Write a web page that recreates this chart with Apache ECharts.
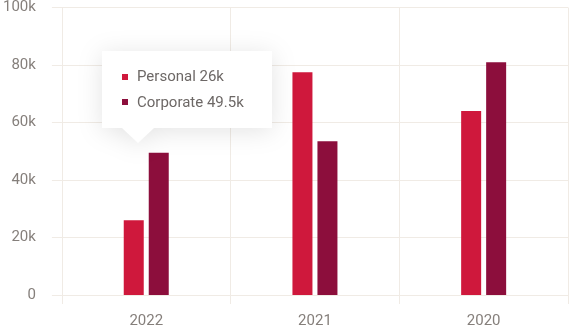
<!DOCTYPE html>
<html>
<head>
<meta charset="utf-8">
<script src="https://cdn.jsdelivr.net/npm/echarts@6/dist/echarts.min.js"></script>
<style>
  html, body { margin: 0; padding: 0; background: #ffffff; }
  #chart { width: 569px; height: 329px; }
</style>
</head>
<body>
<div id="chart"></div>
<script>
// Yearly totals, in thousands
const years = ['2022', '2021', '2020'];
const personal = [26, 77.5, 64];
const corporate = [49.5, 53.5, 81];
const yTicks = [0, 20, 40, 60, 80, 100];

const gridColor = '#f0ebe5';
const labelColor = '#857f7b';
const font = 'Roboto, "Noto Sans", sans-serif';

function fmtK(v) { return v === 0 ? '0' : v + 'k'; }

const chart = echarts.init(document.getElementById('chart'), null, { renderer: 'canvas' });

chart.setOption({
  animation: false,
  grid: { left: 59, right: 1, top: 6, bottom: 33, containLabel: false },
  tooltip: {
    trigger: 'axis',
    triggerOn: 'none',
    alwaysShowContent: true,
    transitionDuration: 0,
    axisPointer: { type: 'none' },
    padding: 0,
    backgroundColor: 'transparent',
    borderWidth: 0,
    extraCssText: 'box-shadow:none;',
    position: function () { return [102, 51]; },
    formatter: function (params) {
      const rows = params.map(function (p) {
        return '<div style="display:flex;align-items:center;height:25.5px;">' +
          '<span style="display:inline-block;width:6px;height:6px;background:' + p.color + ';margin-right:9px;"></span>' +
          '<span>' + p.seriesName + ' ' + fmtK(p.value) + '</span></div>';
      }).join('');
      return '<div style="position:relative;filter:drop-shadow(0 3px 12px rgba(0,0,0,0.11));">' +
        '<div style="width:150px;height:51px;padding:13px 0 13px 20px;background:#fff;' +
        'font-family:' + font.replace(/"/g, "'") + ';font-size:15px;color:#6d6866;line-height:25.5px;">' +
        rows + '</div>' +
        '<div style="position:absolute;left:20px;top:77px;width:0;height:0;' +
        'border-left:16px solid transparent;border-right:16px solid transparent;border-top:15px solid #fff;"></div>' +
        '</div>';
    }
  },
  xAxis: {
    type: 'category',
    data: years,
    boundaryGap: true,
    axisLine: { show: true, lineStyle: { color: gridColor } },
    axisTick: { show: true, length: 9, lineStyle: { color: gridColor } },
    splitLine: { show: true, lineStyle: { color: gridColor } },
    axisLabel: { color: labelColor, fontFamily: font, fontSize: 15, margin: 19 }
  },
  yAxis: {
    type: 'value',
    min: yTicks[0],
    max: yTicks[yTicks.length - 1],
    interval: yTicks[1] - yTicks[0],
    axisLine: { show: true, lineStyle: { color: gridColor } },
    axisTick: { show: true, length: 10, lineStyle: { color: gridColor } },
    splitLine: { show: true, lineStyle: { color: gridColor } },
    axisLabel: { color: labelColor, fontFamily: font, fontSize: 15, margin: 26, formatter: fmtK }
  },
  series: [
    {
      name: 'Personal',
      type: 'bar',
      data: personal,
      barWidth: 20,
      barGap: '25%',
      itemStyle: { color: '#cf183c' },
      emphasis: { disabled: true }
    },
    {
      name: 'Corporate',
      type: 'bar',
      data: corporate,
      barWidth: 20,
      barGap: '25%',
      itemStyle: { color: '#8c0e3c' },
      emphasis: { disabled: true }
    }
  ]
});

chart.dispatchAction({ type: 'showTip', seriesIndex: 0, dataIndex: 0 });
</script>
</body>
</html>
